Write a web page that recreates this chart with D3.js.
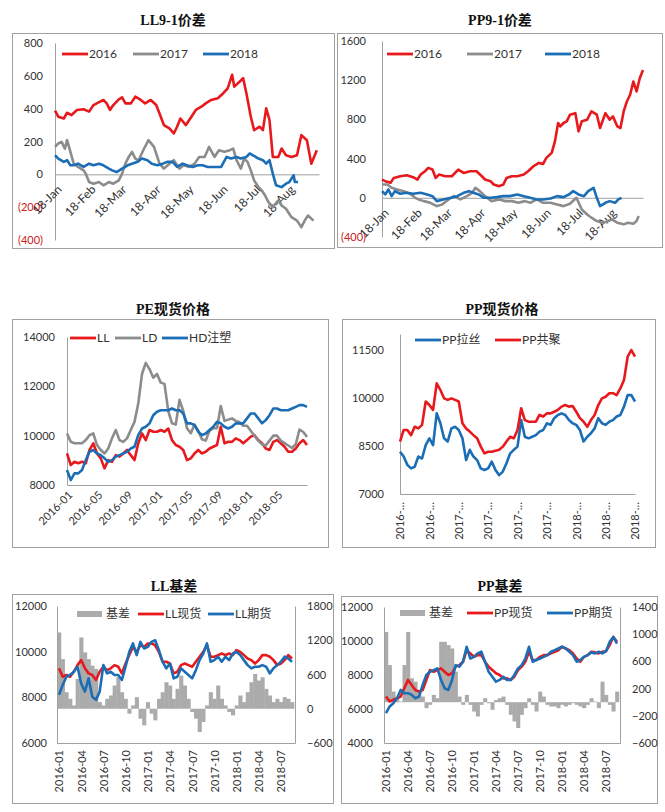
<!DOCTYPE html>
<html>
<head>
<meta charset="utf-8">
<script src="https://cdn.jsdelivr.net/npm/d3@7"></script>
<style>
body { margin: 0; background: #fff; }
</style>
</head>
<body>
<svg id="chart" width="665" height="812"></svg>
<script>
// ---- LL9-1 spread: [day offset from 18-Jan, value]
var ll2016 = [[0,388],[3,351],[8,340],[11,375],[15,361],[20,392],[26,396],[31,382],[35,422],[41,443],[44,453],[47,432],[50,392],[53,422],[58,457],[61,469],[64,432],[69,432],[73,473],[78,453],[82,432],[87,453],[92,422],[95,371],[99,300],[104,280],[108,249],[111,290],[114,340],[119,300],[124,351],[128,392],[133,412],[137,432],[142,453],[148,463],[153,494],[157,524],[161,606],[163,534],[168,565],[171,586],[174,494],[178,351],[181,269],[186,290],[189,269],[192,402],[195,331],[198,106],[203,106],[206,157],[210,116],[215,106],[220,116],[224,239],[229,208],[233,65],[238,147]];
var ll2017 = [[0,167],[3,188],[6,198],[9,157],[11,208],[14,137],[17,65],[21,45],[26,24],[28,4],[31,-47],[35,-57],[40,-47],[44,-67],[49,-47],[53,-57],[58,-37],[61,4],[64,65],[67,106],[70,137],[73,96],[76,86],[81,157],[85,208],[90,167],[95,65],[99,35],[104,65],[108,86],[113,35],[117,55],[122,45],[127,65],[131,106],[136,106],[140,167],[145,106],[149,147],[154,137],[159,147],[162,157],[165,86],[169,35],[172,96],[175,76],[178,24],[181,-37],[185,-78],[188,-98],[191,-129],[194,-169],[198,-200],[203,-159],[206,-190],[210,-210],[215,-261],[220,-282],[224,-322],[227,-282],[230,-251],[235,-282]];
var ll2018 = [[0,116],[3,96],[8,76],[11,86],[14,55],[17,55],[21,65],[26,45],[31,65],[35,55],[40,65],[44,55],[49,35],[52,24],[56,14],[61,35],[66,55],[70,65],[75,76],[79,96],[84,86],[88,65],[93,55],[98,65],[102,76],[107,76],[111,45],[116,65],[120,55],[125,45],[130,55],[134,55],[139,45],[145,45],[151,45],[156,106],[160,96],[165,106],[169,96],[174,106],[177,127],[180,116],[185,96],[189,86],[192,65],[195,86],[198,4],[201,-67],[206,-78],[210,-57],[213,-47],[217,-6],[218,-47],[221,-47]];

// ---- PP9-1 spread
var pp2016 = [[0,186],[3,170],[8,153],[11,203],[17,220],[23,231],[29,210],[33,186],[36,237],[40,271],[43,305],[47,288],[50,203],[53,237],[59,220],[65,220],[71,288],[76,254],[82,271],[88,271],[93,220],[96,186],[101,170],[104,136],[109,119],[113,136],[116,203],[121,220],[126,220],[132,237],[136,271],[141,322],[146,356],[150,346],[153,407],[158,458],[161,576],[164,763],[166,729],[169,763],[172,780],[175,848],[180,864],[183,678],[186,780],[191,797],[195,881],[200,848],[203,712],[208,864],[212,797],[215,831],[219,729],[222,712],[225,881],[228,983],[231,1051],[234,1187],[237,1085],[240,1220],[243,1305]];
var pp2017 = [[0,136],[5,136],[9,102],[14,85],[20,68],[26,41],[31,0],[34,-17],[39,-34],[45,-51],[51,-85],[56,-68],[62,-17],[67,17],[73,-17],[79,17],[84,51],[87,102],[91,68],[96,17],[102,-34],[109,-17],[115,-34],[121,-34],[127,-51],[133,-34],[138,-51],[144,-17],[150,-51],[157,-51],[163,-68],[169,-85],[175,-61],[181,0],[186,-119],[191,-170],[195,-203],[200,-237],[205,-254],[209,-244],[214,-220],[219,-254],[225,-271],[229,-254],[234,-264],[237,-237],[239,-186]];
var pp2018 = [[0,68],[3,34],[6,85],[9,17],[12,68],[17,41],[23,51],[29,41],[36,51],[42,34],[47,17],[51,-34],[57,-17],[64,0],[70,17],[76,51],[81,68],[85,51],[90,34],[95,0],[101,0],[107,7],[113,17],[119,17],[126,34],[132,17],[138,0],[144,-17],[150,-17],[157,-7],[163,17],[169,7],[174,34],[178,68],[183,34],[188,17],[192,68],[197,102],[200,0],[203,-85],[208,-51],[212,-34],[217,-51],[220,-17],[223,0]];

// ---- PE spot prices, half-month steps from 2016-01
var peLL = [9280,8810,8940,8880,8940,8880,9420,9690,9280,9080,8675,9010,8940,9210,9150,9280,9420,9210,9010,9690,10090,9820,10230,10160,10160,10230,10160,10290,9820,9620,9550,9420,9010,9080,9280,9420,9280,9350,9480,9550,9620,10360,9690,9750,9750,9890,9820,9690,9820,9960,10020,9820,9690,9480,9420,9750,9820,9690,9550,9350,9350,9480,9690,9820,9620];
var peLD = [10090,9750,9690,9690,9690,9820,10020,10090,9620,9420,9280,9480,9890,10230,9820,9750,9890,10230,10560,11300,12500,12950,12700,12350,12500,12150,12100,11000,10500,10450,11450,11000,10300,10100,10450,10200,9850,9800,10200,10300,10300,11200,10600,10650,10700,10600,10550,10400,10400,10200,10000,9800,9650,9600,9800,10000,10000,9800,9700,9600,9500,9650,10250,10150,9950];
var peHD = [8610,8200,8470,8470,8610,9010,9350,9420,9280,9210,9080,8940,9010,9150,9210,9280,9350,9480,9550,10020,10290,10360,10500,10830,10970,11030,11030,11030,11100,11030,11030,10900,10500,10500,10430,10160,10020,10090,10230,10360,10560,10500,10360,10290,10360,10500,10500,10500,10700,10900,10900,10700,10500,10630,10830,11100,11100,11030,11030,11030,11100,11170,11240,11240,11170];
var peTicks = ["2016-01","2016-05","2016-09","2017-01","2017-05","2017-09","2018-01","2018-05"];

// ---- PP spot prices
var ppLasi = [8320,8170,7910,7800,7850,8170,8110,8530,8740,8530,9520,9210,8740,8640,9050,9100,9000,8740,8060,8380,8170,8060,7800,7750,7800,8010,7750,7590,7700,7960,8270,8380,8480,9310,8790,8740,8790,8840,8950,9000,9210,9160,9370,9470,9520,9470,9310,9210,9160,9000,8640,8790,8900,9050,9370,9210,9160,9260,9310,9420,9470,9730,10090,10090,9890];
var ppGongju = [8640,9000,9000,8840,9100,9050,9160,9890,9780,9630,10460,10250,9990,9940,9990,9940,9890,9210,9050,8950,8840,8740,8480,8270,8320,8320,8350,8380,8480,8640,8790,8740,9000,9680,9310,9260,9260,9260,9470,9420,9520,9520,9570,9630,9730,9780,9730,9750,9570,9370,9260,9100,9310,9470,9780,9990,10040,10150,10150,10090,10300,10560,11290,11500,11290];
var ppSpotTicks = ["2016-…","2016-…","2017-…","2017-…","2017-…","2017-…","2018-…","2018-…","2018-…"];

// ---- LL basis
var llSpot = [9270,8900,8980,8900,9120,9410,9630,9270,9050,8980,8760,9120,9340,9190,9270,9410,9340,9050,9480,9850,10210,9990,10280,10210,10360,10360,10280,9990,9560,9560,9480,9050,9120,9410,9480,9410,9340,9560,9780,9990,10280,9780,9780,9850,9920,9850,9920,9850,10070,9990,9850,9700,9630,9480,9630,9850,9850,9780,9630,9410,9480,9630,9850,9700];
var llFut = [8110,8540,8900,8980,9120,9340,8610,8250,8830,8030,7890,8250,9410,9050,9120,8980,8980,8760,9340,9990,10360,9850,10430,10140,10210,10430,10500,10070,9560,9270,9480,8830,8900,9270,9120,8980,8830,9190,9630,9920,10360,9560,9630,9780,9560,9780,9630,9920,9990,9850,9630,9410,9270,9340,9340,9410,9340,9050,9270,9410,9560,9780,9700,9560];
var llBasis = [1336,870,290,174,58,523,1249,988,870,755,697,116,58,174,232,407,552,290,174,-87,58,203,-174,-290,116,-87,-203,174,290,465,407,174,349,581,407,174,-58,-174,-407,-232,58,290,174,407,174,58,-58,-116,58,232,116,290,465,610,494,552,349,232,116,174,116,203,174,116];

// ---- PP basis
var ppSpot = [6730,6440,6540,6630,6730,7220,7710,7410,7120,7020,7120,7710,8290,8190,8290,8390,8190,8000,8100,8490,8580,8780,9460,9270,9070,9170,9170,8780,8490,8290,8100,8000,7800,7800,7710,7900,8290,8490,8780,9370,8880,8880,9070,9170,9170,9270,9370,9460,9660,9560,9460,9270,8970,8780,9070,9170,9370,9330,9270,9370,9400,9760,10240,9950];
var ppFut = [5760,6150,6340,6630,7120,6930,6930,6830,6630,6730,7410,8000,8190,8290,8390,7710,7220,7120,7710,8580,8490,8780,9660,8970,9070,9270,9370,8780,8190,7900,7610,7710,7900,7710,7710,8000,8390,8580,8970,9660,8780,8880,8970,9070,9170,9370,9460,9560,9660,9560,9370,9170,8780,8880,9070,9170,9330,9270,9370,9270,9400,9950,10240,9850];
var ppBasis = [1034,546,156,59,10,546,1034,351,302,156,83,-88,-39,107,59,888,888,839,790,449,83,-39,107,-39,-137,-210,-39,59,-15,-112,34,59,83,-39,-185,-283,-380,-185,-88,59,-39,-137,156,83,-39,-63,-63,-88,-39,-63,-39,-15,-39,-63,-88,-39,59,10,-88,302,107,-39,-137,156];
var basisTicks = ["2016-01","2016-04","2016-07","2016-10","2017-01","2017-04","2017-07","2017-10","2018-01","2018-04","2018-07"];

var RED = "#e8191c", GRAY = "#8c8c8c", BLUE = "#1b6db5", BAR = "#ababab", AXIS = "#a0a0a0";
var FONT = "Lato, 'Noto Sans CJK SC', sans-serif";
var TFONT = "'Liberation Serif', 'Noto Sans CJK SC', serif";
var plain = d3.format("d");

var svg = d3.select("#chart");

// frame + title
function frame(x0, y0, x1, y1) {
    svg.append("rect")
    .attr("x", x0 + 0.5).attr("y", y0 + 0.5)
    .attr("width", x1 - x0).attr("height", y1 - y0)
    .attr("fill", "none").attr("stroke", AXIS).attr("stroke-width", 1);
}
function title(cx, y, txt) {
    svg.append("text").text(txt)
    .attr("x", cx).attr("y", y)
    .attr("text-anchor", "middle")
    .style("font-family", TFONT).style("font-weight", "bold").style("font-size", "14px")
    .style("fill", "#111");
}
function legendLine(x, y, color, label) {
    svg.append("line").attr("x1", x).attr("x2", x + 26).attr("y1", y).attr("y2", y)
    .attr("stroke", color).attr("stroke-width", 2.8);
    svg.append("text").text(label).attr("x", x + 27).attr("y", y).attr("dy", "0.36em")
    .style("font-family", FONT).style("font-size", "12px").style("fill", "#333");
}
function legendBar(x, y, label) {
    svg.append("rect").attr("x", x).attr("y", y - 3).attr("width", 25).attr("height", 6).attr("fill", BAR);
    svg.append("text").text(label).attr("x", x + 29).attr("y", y).attr("dy", "0.36em")
    .style("font-family", FONT).style("font-size", "12px").style("fill", "#333");
}
function styleAxis(g, size) {
    g.attr("font-family", FONT).attr("font-size", size || 11);
    g.select(".domain").attr("stroke", AXIS);
    g.selectAll("text").attr("fill", "#333");
}
function drawPath(data, line, color) {
    svg.append("path").datum(data)
    .attr("d", line)
    .attr("fill", "none").attr("stroke", color)
    .attr("stroke-width", 2.6).attr("stroke-linejoin", "round");
}

// ---------- spread panels (LL9-1, PP9-1)
var start18 = new Date(2018, 0, 18);
var monthTicks = d3.range(8).map(m => new Date(2018, m, 18));
var fmtMonth = d3.timeFormat("%d-%b");
var paren = d => d < 0 ? "(" + (-d) + ")" : d;

function spreadPanel(o) {
    let x = d3.scaleTime().domain([start18, o.end]).range([o.left, o.right]);
    let y = d3.scaleLinear().domain(o.yDomain).range([o.bottom, o.top]);

    let yGroup = svg.append("g").attr("transform", "translate(" + o.left + ",0)")
    .call(d3.axisLeft(y).tickValues(o.yTicks).tickSize(0).tickSizeOuter(0).tickPadding(o.pad).tickFormat(paren));
    styleAxis(yGroup);
    yGroup.selectAll("text").attr("fill", d => d < 0 ? "#cc2020" : "#333");

    let xGroup = svg.append("g").attr("transform", "translate(0," + y(0) + ")")
    .call(d3.axisBottom(x).tickValues(monthTicks).tickSize(0).tickSizeOuter(0).tickFormat(fmtMonth));
    styleAxis(xGroup, 12);
    xGroup.selectAll("text")
    .attr("x", 0).attr("y", 0).attr("dy", "0.35em")
    .attr("text-anchor", "end")
    .attr("transform", "translate(4,13) rotate(-45)");

    let line = d3.line()
    .x(d => x(d3.timeDay.offset(start18, d[0])))
    .y(d => y(d[1]));
    o.series.forEach(s => drawPath(s[0], line, s[1]));
}

frame(12, 33, 334, 248);
title(173, 25, "LL9-1价差");
spreadPanel({
    left: 55, right: 319, top: 43, bottom: 240, pad: 12,
    end: new Date(2018, 8, 15),
    yDomain: [-400, 800], yTicks: [-400, -200, 0, 200, 400, 600, 800],
    series: [[ll2016, RED], [ll2017, GRAY], [ll2018, BLUE]]
});
legendLine(62, 54, RED, "2016");
legendLine(133, 54, GRAY, "2017");
legendLine(203, 54, BLUE, "2018");

frame(337, 33, 662, 247);
title(500, 25, "PP9-1价差");
spreadPanel({
    left: 382, right: 643, top: 41, bottom: 237, pad: 16,
    end: new Date(2018, 8, 18),
    yDomain: [-400, 1600], yTicks: [-400, 0, 400, 800, 1200, 1600],
    series: [[pp2016, RED], [pp2017, GRAY], [pp2018, BLUE]]
});
legendLine(387, 54, RED, "2016");
legendLine(467, 54, GRAY, "2017");
legendLine(545, 54, BLUE, "2018");

// ---------- PE spot
frame(12, 319, 328, 547);
title(173, 314, "PE现货价格");
(function () {
    let x = d3.scaleLinear().domain([0, 64]).range([67, 307]);
    let y = d3.scaleLinear().domain([8000, 14000]).range([485, 337]);
    let yGroup = svg.append("g").attr("transform", "translate(67,0)")
    .call(d3.axisLeft(y).tickValues([8000, 10000, 12000, 14000]).tickSize(0).tickSizeOuter(0).tickPadding(12).tickFormat(plain));
    styleAxis(yGroup);
    let xGroup = svg.append("g").attr("transform", "translate(0,485)")
    .call(d3.axisBottom(x).tickValues(d3.range(0, 57, 8)).tickSize(0).tickSizeOuter(0)
        .tickFormat((d, i) => peTicks[i]));
    styleAxis(xGroup);
    xGroup.selectAll("text")
    .attr("x", 0).attr("y", 0).attr("dy", "0.35em")
    .attr("text-anchor", "end")
    .attr("transform", "translate(3,8) rotate(-45)");
    let line = d3.line().x((d, i) => x(i)).y(d => y(d));
    drawPath(peLL, line, RED);
    drawPath(peLD, line, GRAY);
    drawPath(peHD, line, BLUE);
})();
legendLine(70, 338, RED, "LL");
legendLine(115, 338, GRAY, "LD");
legendLine(162, 338, BLUE, "HD注塑");

// ---------- PP spot
frame(342, 319, 655, 547);
title(502, 314, "PP现货价格");
(function () {
    let x = d3.scaleLinear().domain([0, 64]).range([400, 635]);
    let y = d3.scaleLinear().domain([7000, 12000]).range([494, 334]);
    let yGroup = svg.append("g").attr("transform", "translate(400,0)")
    .call(d3.axisLeft(y).tickValues([7000, 8500, 10000, 11500]).tickSize(0).tickSizeOuter(0).tickPadding(16).tickFormat(plain));
    styleAxis(yGroup);
    let xGroup = svg.append("g").attr("transform", "translate(0,494)")
    .call(d3.axisBottom(x).tickValues(d3.range(0, 65, 8)).tickSize(0).tickSizeOuter(0)
        .tickFormat((d, i) => ppSpotTicks[i]));
    styleAxis(xGroup);
    xGroup.selectAll("text")
    .attr("x", 0).attr("y", 0).attr("dy", "0.35em")
    .attr("text-anchor", "end")
    .attr("transform", "translate(0,8) rotate(-90)");
    let line = d3.line().x((d, i) => x(i)).y(d => y(d));
    drawPath(ppLasi, line, BLUE);
    drawPath(ppGongju, line, RED);
})();
legendLine(415, 340, BLUE, "PP拉丝");
legendLine(495, 340, RED, "PP共聚");

// ---------- basis panels
function basisPanel(o) {
    let x = d3.scaleLinear().domain([0, 63]).range([o.left + 2, o.right - 3]);
    let yL = d3.scaleLinear().domain(o.leftDomain).range([o.bottom, o.top]);
    let yR = d3.scaleLinear().domain(o.rightDomain).range([o.bottom, o.top]);
    let step = x(1) - x(0);

    // basis bars
    svg.append("g").selectAll("rect")
    .data(o.basis)
    .enter().append("rect")
    .attr("x", (d, i) => x(i) - step / 2)
    .attr("width", step + 0.4)
    .attr("y", d => Math.min(yR(d), yR(0)))
    .attr("height", d => Math.abs(yR(d) - yR(0)))
    .attr("fill", BAR);

    let lGroup = svg.append("g").attr("transform", "translate(" + o.left + ",0)")
    .call(d3.axisLeft(yL).tickValues(o.leftTicks).tickSize(0).tickSizeOuter(0).tickPadding(o.padL).tickFormat(plain));
    styleAxis(lGroup);
    let rGroup = svg.append("g").attr("transform", "translate(" + o.right + ",0)")
    .call(d3.axisRight(yR).tickValues(o.rightTicks).tickSize(0).tickSizeOuter(0).tickPadding(12).tickFormat(plain));
    styleAxis(rGroup);

    let xAxisScale = x.copy().range([o.left, o.right]).domain([x.invert(o.left), x.invert(o.right)]);
    let xGroup = svg.append("g").attr("transform", "translate(0," + o.bottom + ")")
    .call(d3.axisBottom(xAxisScale).tickValues(d3.range(0, 61, 6)).tickSize(0).tickSizeOuter(0)
        .tickFormat((d, i) => basisTicks[i]));
    styleAxis(xGroup);
    xGroup.selectAll("text")
    .attr("x", 0).attr("y", 0).attr("dy", "0.35em")
    .attr("text-anchor", "end")
    .attr("transform", "translate(0,7) rotate(-90)");

    let line = d3.line().x((d, i) => x(i)).y(d => yL(d));
    drawPath(o.spot, line, RED);
    drawPath(o.fut, line, BLUE);
}

frame(12, 594, 333, 803);
title(174, 591, "LL基差");
basisPanel({
    left: 57, right: 295, top: 606, bottom: 743, padL: 10,
    leftDomain: [6000, 12000], leftTicks: [6000, 8000, 10000, 12000],
    rightDomain: [-600, 1800], rightTicks: [-600, 0, 600, 1200, 1800],
    basis: llBasis, spot: llSpot, fut: llFut
});
legendBar(77, 614, "基差");
legendLine(138, 614, RED, "LL现货");
legendLine(208, 614, BLUE, "LL期货");

frame(341, 596, 657, 803);
title(500, 591, "PP基差");
basisPanel({
    left: 384, right: 620, top: 607, bottom: 743, padL: 11,
    leftDomain: [4000, 12000], leftTicks: [4000, 6000, 8000, 10000, 12000],
    rightDomain: [-600, 1400], rightTicks: [-600, -200, 200, 600, 1000, 1400],
    basis: ppBasis, spot: ppSpot, fut: ppFut
});
legendBar(400, 613, "基差");
legendLine(467, 613, RED, "PP现货");
legendLine(547, 613, BLUE, "PP期货");
</script>
</body>
</html>
